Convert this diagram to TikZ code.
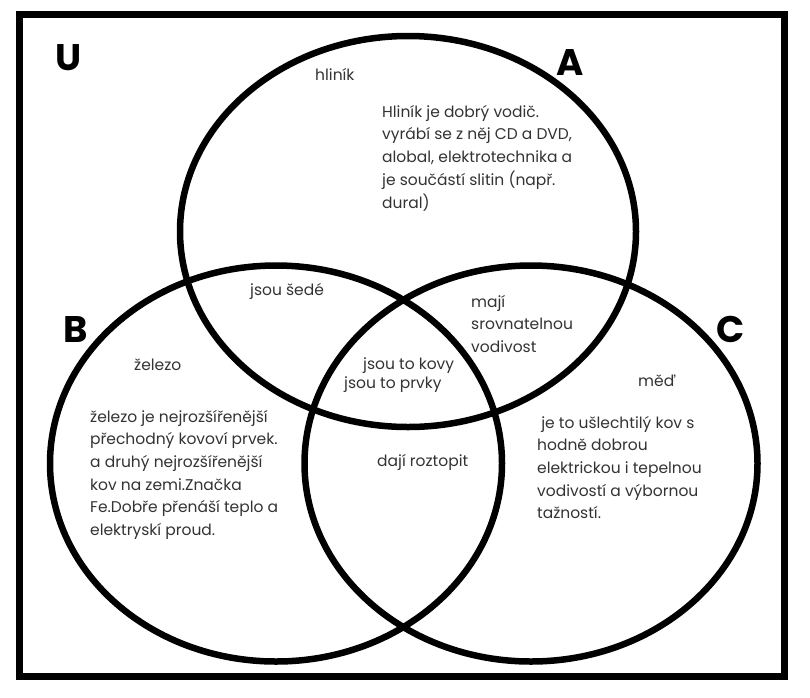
\documentclass[tikz,border=0pt]{standalone}
\usepackage{fontspec}
\setmainfont{Poppins}
\usetikzlibrary{shapes.geometric}
\tikzset{
  setshape/.style={ellipse, draw=black, line width=6.5pt, inner sep=0pt},
  txt/.style={anchor=base west, inner sep=0pt, font=\fontsize{15.5}{22.7}\selectfont, align=left, text=black!80},
  lab/.style={anchor=base west, inner sep=0pt, font=\fontsize{37}{37}\selectfont\bfseries, text=black},
}
\begin{document}
\begin{tikzpicture}[x=1pt,y=-1pt]
\useasboundingbox (0,0) rectangle (810,697);
\fill[white] (0,0) rectangle (810,697);
\node[draw=black, line width=7pt, minimum width=765.5pt, minimum height=662pt, inner sep=0pt] (U) at (401.75,345) {};
\node[setshape, minimum width=456pt, minimum height=391pt] (A) at (408,231.5) {};
\node[setshape, minimum width=452pt, minimum height=396pt] (B) at (276,463.5) {};
\node[setshape, minimum width=453pt, minimum height=396pt] (C) at (531,463.5) {};
\node[lab] (lU) at (55,70) {U};
\node[lab] (lA) at (556,75) {A};
\node[lab] (lB) at (63,342) {B};
\node[lab] (lC) at (716,342) {C};
\node[txt] (hl) at (315,80) {hliník};
\node[txt] (hlt) at (382,208) {Hliník je dobrý vodič.\\vyrábí se z něj CD a DVD,\\alobal, elektrotechnika a\\je součástí slitin (např.\\dural)};
\node[txt] (sede) at (250,295) {jsou šedé};
\node[txt] (maji) at (471,352.4) {mají\\srovnatelnou\\vodivost};
\node[txt] (kovy) at (363,369) {jsou to kovy};
\node[txt] (prvky) at (344,388) {jsou to prvky};
\node[txt] (fe) at (134,370) {železo};
\node[txt] (fet) at (90,535.5) {železo je nejrozšířenější\\přechodný kovoví prvek.\\a druhý nejrozšířenější\\kov na zemi.Značka\\Fe.Dobře přenáší teplo a\\elektryskí proud.};
\node[txt] (roz) at (377,466) {dají roztopit};
\node[txt] (cu) at (638,386) {měď};
\node[txt] (cut) at (537,518.8) {\ je to ušlechtilý kov s\\hodně dobrou\\elektrickou i tepelnou\\vodivostí a výbornou\\tažností.};
\end{tikzpicture}
\end{document}
